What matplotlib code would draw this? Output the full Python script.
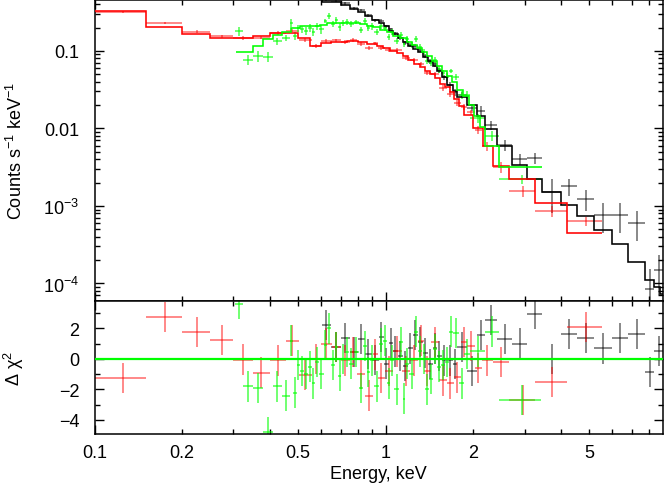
import numpy as np
import matplotlib
matplotlib.use('Agg')
import matplotlib.pyplot as plt

plt.rcParams['font.family'] = ['Liberation Sans', 'DejaVu Sans']
plt.rcParams['mathtext.fontset'] = 'custom'
plt.rcParams['mathtext.rm'] = 'Liberation Sans'
plt.rcParams['mathtext.it'] = 'Liberation Sans:italic'
plt.rcParams['mathtext.bf'] = 'Liberation Sans:bold'

# ---------------- model step curves (bin edges, counts/s/keV) ----------------
black_model_edges = [0.55, 0.603, 0.700, 0.752, 0.801, 0.847, 0.895, 0.946, 0.984, 1.024,
                     1.057, 1.100, 1.144, 1.190, 1.238, 1.288, 1.340, 1.394, 1.451, 1.497,
                     1.557, 1.621, 1.699, 1.754, 1.898, 2.054, 2.188, 2.405, 2.709, 3.05,
                     3.44, 3.99, 4.53, 5.19, 5.98, 6.79, 7.76, 8.34, 8.74, 9.02]
black_model = [0.6, 0.429, 0.392, 0.348, 0.319, 0.283, 0.251, 0.230, 0.210, 0.181,
               0.166, 0.147, 0.131, 0.116, 0.106, 0.097, 0.0837, 0.0743, 0.0641, 0.0552,
               0.0462, 0.0364, 0.0305, 0.0255, 0.0201, 0.0145, 0.00986, 0.00594, 0.00338, 0.00223,
               0.00152, 0.00103, 7.43e-4, 4.9e-4, 3.23e-4, 1.89e-4, 1.11e-4, 9.0e-5, 7.3e-5]

red_model_edges = [0.1, 0.15, 0.2, 0.25, 0.35, 0.4, 0.5, 0.55, 0.6, 0.65,
                   0.734, 0.801, 0.86, 0.931, 0.976, 1.032, 1.091, 1.144, 1.19, 1.248,
                   1.309, 1.361, 1.416, 1.474, 1.533, 1.595, 1.659, 1.713, 1.782, 1.854,
                   1.991, 2.155, 2.332, 2.647, 3.25, 4.19, 5.52]
red_model = [0.328, 0.204, 0.166, 0.147, 0.156, 0.171, 0.147, 0.116, 0.127, 0.131,
             0.135, 0.131, 0.123, 0.116, 0.109, 0.1, 0.0942, 0.0862, 0.0765, 0.068,
             0.0622, 0.0552, 0.0505, 0.0448, 0.0375, 0.0343, 0.0296, 0.024, 0.0195, 0.0149,
             0.0101, 0.00594, 0.00328, 0.00223, 0.00109, 4.48e-4]

green_model_edges = [0.305, 0.349, 0.378, 0.409, 0.439, 0.472, 0.506, 0.548, 0.593, 0.627,
                     0.711, 0.814, 0.860, 0.902, 0.954, 1.008, 1.057, 1.117, 1.181, 1.228,
                     1.278, 1.330, 1.383, 1.439, 1.497, 1.557, 1.621, 1.686, 1.754, 1.839,
                     1.929, 2.006, 2.104, 2.188, 2.445, 3.44]
green_model = [0.097, 0.116, 0.143, 0.161, 0.176, 0.198, 0.210, 0.210, 0.216, 0.230,
               0.230, 0.223, 0.210, 0.204, 0.187, 0.176, 0.156, 0.147, 0.131, 0.1195,
               0.109, 0.097, 0.0862, 0.0743, 0.0641, 0.0552, 0.0476, 0.0398, 0.0314, 0.0263,
               0.0201, 0.0145, 0.0104, 0.00594, 0.00319]

# ---------------- data (bin edges, flux, flux error, residual) ----------------
black_edges = [0.603, 0.647, 0.700, 0.752, 0.801, 0.847, 0.895, 0.946, 0.984, 1.024,
               1.057, 1.100, 1.144, 1.190, 1.238, 1.288, 1.340, 1.394, 1.451, 1.497,
               1.557, 1.621, 1.699, 1.754, 1.898, 2.054, 2.188, 2.405, 2.709, 3.05,
               3.44, 3.99, 4.53, 5.19, 5.98, 6.79, 7.76, 8.34, 9.02]
black_flux = [0.46, 0.44, 0.41, 0.354, 0.335, 0.287, 0.250, 0.245, 0.207, 0.190,
              0.170, 0.148, 0.128, 0.121, 0.116, 0.103, 0.086, 0.0726, 0.0674, 0.0561,
              0.0458, 0.0361, 0.0295, 0.0270, 0.0186, 0.0168, 0.0111, 0.00612, 0.00404, 0.00418,
              0.00152, 0.00181, 0.00123, 0.000765, 0.000765, 0.000604, 0.000085, 0.00015]
black_err = [0.014, 0.014, 0.013, 0.013, 0.012, 0.011, 0.011, 0.010, 0.010, 0.009,
             0.008, 0.008, 0.007, 0.007, 0.0065, 0.006, 0.0055, 0.005, 0.0047, 0.0043,
             0.0038, 0.0032, 0.0029, 0.0022, 0.0019, 0.0025, 0.0015, 0.001, 0.00068, 0.00068,
             0.0007, 0.00045, 0.00037, 0.00032, 0.00032, 0.00025, 0.00007, 0.00008]
black_resid = [2.23, 0.8, 1.38, 0.46, 1.3, 0.33, -0.07, 1.44, -0.3, 1.05,
               0.5, 0.2, -0.46, 0.7, 1.57, 1.1, 0.4, -0.33, 0.7, 0.2,
               -0.1, -0.1, -0.33, 0.8, -0.8, 1.57, 2.56, 1.3, 1.0, 2.95,
               0.0, 1.64, 1.38, 0.7, 1.38, 1.64, -0.85, 0.52]

red_edges = [0.100, 0.150, 0.199, 0.250, 0.298, 0.349, 0.399, 0.453, 0.502, 0.557,
             0.598, 0.652, 0.700, 0.752, 0.795, 0.847, 0.902, 0.939, 0.992, 1.057,
             1.135, 1.209, 1.288, 1.351, 1.428, 1.521, 1.621, 1.713, 1.810, 1.898,
             2.022, 2.137, 2.332, 2.647, 3.25, 4.19, 5.52]
red_flux = [0.319, 0.23, 0.178, 0.155, 0.147, 0.149, 0.170, 0.182, 0.138, 0.116,
            0.135, 0.137, 0.130, 0.138, 0.124, 0.108, 0.125, 0.108, 0.104, 0.103,
            0.082, 0.076, 0.067, 0.052, 0.051, 0.0335, 0.0278, 0.0215, 0.019, 0.0161,
            0.0095, 0.0059, 0.0032, 0.00157, 0.00086, 0.00064]
red_err = [0.008, 0.0095, 0.007, 0.0065, 0.007, 0.008, 0.009, 0.009, 0.009, 0.008,
           0.008, 0.007, 0.007, 0.007, 0.007, 0.0062, 0.007, 0.0065, 0.006, 0.006,
           0.005, 0.005, 0.004, 0.0035, 0.0032, 0.003, 0.0026, 0.0021, 0.0017, 0.0014,
           0.0011, 0.0008, 0.0005, 0.00025, 0.00015, 0.00009]
red_resid = [-1.25, 2.75, 1.77, 1.25, -0.05, -0.9, -0.1, 1.2, -1.05, 0.0,
             1.0, 0.8, -0.1, 0.45, -1.0, -2.4, 0.3, -1.25, -0.8, 0.5,
             -0.8, -0.1, 1.2, -0.8, 1.1, -1.4, -1.6, -1.2, 1.1, 0.85,
             -0.6, -0.1, -0.2, -2.7, -1.5, 2.1]

green_edges = [0.3029, 0.3226, 0.3491, 0.3778, 0.4089, 0.4391, 0.4678, 0.4809, 0.4944, 0.5083,
               0.5225, 0.5395, 0.5568, 0.5724, 0.5908, 0.6121, 0.6294, 0.6471, 0.6679, 0.6867,
               0.7033, 0.7231, 0.7464, 0.7763, 0.8077, 0.8338, 0.8604, 0.8844, 0.9130, 0.9461,
               0.9804, 1.0120, 1.0363, 1.0696, 1.1127, 1.1439, 1.1668, 1.2044, 1.2480, 1.2933,
               1.3349, 1.3670, 1.4053, 1.4561, 1.5031, 1.5514, 1.6014, 1.6463, 1.7061, 1.7819,
               1.8612, 1.9439, 2.1888, 2.4447, 3.4095]
green_flux = [0.18, 0.0765, 0.0862, 0.0837, 0.135, 0.147, 0.23, 0.156, 0.198, 0.19,
              0.181, 0.198, 0.176, 0.21, 0.19, 0.244, 0.283, 0.223, 0.251, 0.204,
              0.23, 0.237, 0.223, 0.237, 0.187, 0.244, 0.198, 0.21, 0.176, 0.21,
              0.198, 0.152, 0.176, 0.135, 0.161, 0.123, 0.143, 0.1195, 0.143, 0.1126,
              0.097, 0.0743, 0.070, 0.0765, 0.0586, 0.052, 0.0462, 0.0552, 0.0462, 0.027,
              0.027, 0.0135, 0.0080, 0.00223]
green_err = [0.022, 0.011, 0.015, 0.012, 0.014, 0.012, 0.027, 0.019, 0.02, 0.02,
             0.02, 0.022, 0.02, 0.022, 0.024, 0.016, 0.026, 0.02, 0.026, 0.024,
             0.022, 0.02, 0.022, 0.017, 0.019, 0.024, 0.015, 0.021, 0.016, 0.02,
             0.018, 0.015, 0.014, 0.011, 0.013, 0.01, 0.012, 0.011, 0.013, 0.01,
             0.009, 0.007, 0.007, 0.006, 0.006, 0.005, 0.005, 0.004, 0.004, 0.003,
             0.003, 0.0017, 0.0012, 0.0003]
green_resid = [3.6, -1.8, -1.9, -4.8, -1.8, -2.4, 1.2, -2.2, -0.4, -0.8,
               -1.0, -0.5, -1.6, -0.2, -1.0, 0.9, 2.0, -0.4, 0.8, -1.1,
               0.0, 0.45, -0.3, 0.45, -1.9, 0.85, -0.85, -0.1, -1.8, 1.0,
               1.2, -1.6, -0.1, -2.0, 1.1, -2.6, -0.3, -1.0, 1.8, 0.5,
               0.0, -2.0, -1.3, 0.66, -0.5, -0.4, -0.2, 1.8, 1.7, -1.6,
               0.33, 0.5, 1.8, -2.7]

# ---------------- axis ticks ----------------
x_major = [0.1, 1.0]
x_major_labels = ['0.1', '1']
x_minor = [0.2, 0.3, 0.4, 0.5, 0.6, 0.7, 0.8, 0.9, 2, 3, 4, 5, 6, 7, 8]
x_minor_labels = ['0.2', '', '', '0.5', '', '', '', '', '2', '', '', '5', '', '', '']
y_top_major = [1e-4, 1e-3, 1e-2, 1e-1]
y_top_labels = [r'10$^{-4}$', r'10$^{-3}$', '0.01', '0.1']
y_bot_major = [-4, -2, 0, 2]
y_bot_labels = ['\u22124', '\u22122', '0', '2']
y_bot_minor = [-3, -1, 1, 3]

BLACK, RED, GREEN = '#000000', '#ff0000', '#00ff00'

fig = plt.figure(figsize=(6.64, 4.89), dpi=100)
L = 94.5 / 664
W = (663 - 94.5) / 664
ax1 = fig.add_axes([L, 1 - 302 / 489, W, 301.5 / 489])
ax2 = fig.add_axes([L, 1 - 435 / 489, W, 133 / 489])


def crosses(ax, edges, y, yerr, color, alpha, z):
    e = np.asarray(edges, dtype=float)
    xc = 0.5 * (e[:-1] + e[1:])
    ax.errorbar(xc, y, xerr=[xc - e[:-1], e[1:] - xc], yerr=yerr, fmt='none',
                ecolor=color, alpha=alpha, elinewidth=1.3, capsize=0, zorder=z)


# top panel
crosses(ax1, black_edges, black_flux, black_err, BLACK, 0.5, 2)
crosses(ax1, red_edges, red_flux, red_err, RED, 0.5, 2)
crosses(ax1, green_edges, green_flux, green_err, GREEN, 0.6, 2)
ax1.stairs(black_model, black_model_edges, baseline=None, color=BLACK, lw=1.15, zorder=3)
ax1.stairs(red_model, red_model_edges, baseline=None, color=RED, lw=1.15, zorder=3)
ax1.stairs(green_model, green_model_edges, baseline=None, color=GREEN, lw=1.15, zorder=3)

# residual panel
ones_b = [1.0] * len(black_resid)
ones_r = [1.0] * len(red_resid)
ones_g = [1.0] * len(green_resid)
crosses(ax2, black_edges, black_resid, ones_b, BLACK, 0.5, 2)
crosses(ax2, red_edges, red_resid, ones_r, RED, 0.5, 2)
crosses(ax2, green_edges, green_resid, ones_g, GREEN, 0.6, 2)
ax2.axhline(0, color=GREEN, lw=1.6, zorder=5)

for ax in (ax1, ax2):
    ax.set_xscale('log')
    ax.set_xlim(0.1, 8.95)
    ax.set_xticks(x_major)
    ax.set_xticks(x_minor, minor=True)
    ax.tick_params(which='both', direction='in', top=True, right=True,
                   labelsize=13, width=1.0)
    ax.tick_params(which='major', length=6.5)
    ax.tick_params(which='minor', length=3.6)
    ax.tick_params(axis='y', which='both', pad=11)
    ax.tick_params(axis='x', which='both', pad=7)
    for s in ax.spines.values():
        s.set_linewidth(1.1)

ax1.set_yscale('log')
ax1.set_ylim(5.94e-5, 0.461)
ax1.set_yticks(y_top_major)
ax1.set_yticklabels(y_top_labels)
ax1.set_yticks([k * 10.0 ** n for n in range(-5, 0) for k in range(2, 10)], minor=True)
ax1.yaxis.set_minor_formatter(matplotlib.ticker.NullFormatter())
ax1.set_ylim(5.94e-5, 0.461)
ax1.tick_params(axis='x', which='both', labelbottom=False)

ax2.set_ylim(-4.92, 3.80)
ax2.set_yticks(y_bot_major)
ax2.set_yticklabels(y_bot_labels)
ax2.set_yticks(y_bot_minor, minor=True)
ax2.set_xticklabels(x_major_labels)
ax2.set_xticklabels(x_minor_labels, minor=True)
ax2.set_xlim(0.1, 8.95)

ax1.set_ylabel('Counts s$^{-1}$ keV$^{-1}$', fontsize=13)
ax1.yaxis.set_label_coords(-0.12, 0.5)
ax2.set_ylabel('\u0394 \u03c7$^2$', fontsize=13)
ax2.yaxis.set_label_coords(-0.12, 0.5)
ax2.set_xlabel('Energy, keV', fontsize=13, labelpad=3)

fig.savefig('out.png', dpi=100)
